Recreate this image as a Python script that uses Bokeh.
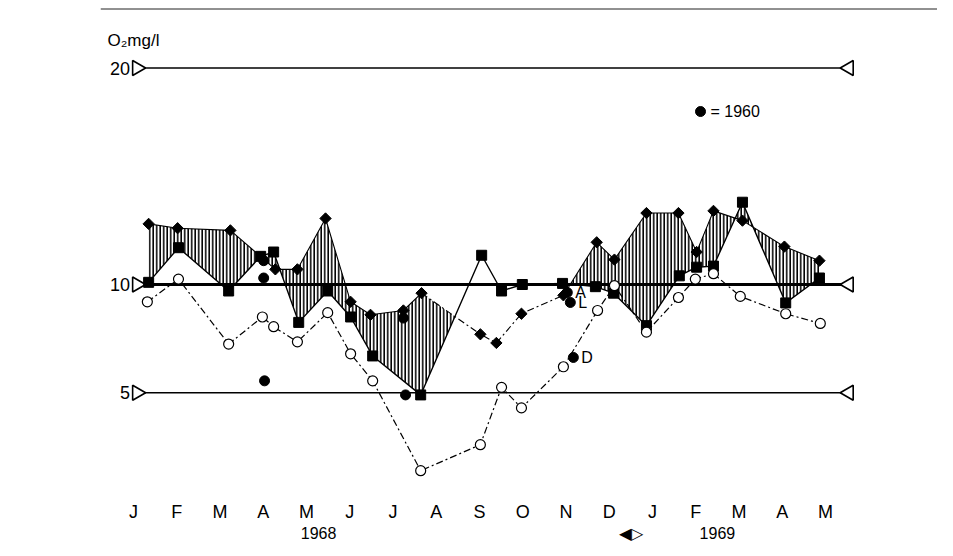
import numpy as np
from bokeh.plotting import figure
from bokeh.models import FixedTicker, LinearAxis, Range1d, Span, Label
from bokeh.core.properties import value
from bokeh.embed import file_html
from bokeh.resources import INLINE

# ---------------- data ----------------
months = ["J", "F", "M", "A", "M", "J", "J", "A", "S", "O", "N", "D",
          "J", "F", "M", "A", "M"]
month_pos = list(range(len(months)))
year_labels = ["1968", "\u25c0\u25b7", "1969"]
year_pos = [4.28, 11.51, 13.50]
ref_levels = [5, 10, 20]
ref_labels = ["5", "10", "20"]

# filled diamonds (upper boundary of hatched area)
dia_x = [0.35, 1.02, 2.24, 3.28, 3.79, 4.44, 5.02, 5.48, 6.24, 6.66, 8.02, 8.39,
         8.97, 9.94, 10.71, 11.12, 11.86, 12.60, 13.02, 13.41, 14.08, 15.05, 15.86]
dia_y = [12.8, 12.6, 12.5, 10.7, 10.7, 13.05, 9.2, 8.6, 8.8, 9.6, 7.7, 7.3,
         8.65, 9.5, 11.95, 11.15, 13.3, 13.3, 11.5, 13.4, 12.95, 11.75, 11.1]

# filled squares
sq_x = [0.35, 1.04, 2.20, 2.94, 3.24, 3.82, 4.49, 5.02, 5.53, 6.64, 8.05, 8.51,
        8.99, 9.92, 10.68, 11.10, 11.86, 12.62, 13.02, 13.41, 14.08, 15.08, 15.86]
sq_y = [10.1, 11.7, 9.7, 11.3, 11.5, 8.25, 9.7, 8.5, 6.7, 4.9, 11.35, 9.7,
        10.0, 10.05, 9.9, 9.6, 8.1, 10.4, 10.8, 10.85, 13.8, 9.15, 10.3]

# open circles
oc_x = [0.32, 1.04, 2.20, 2.98, 3.24, 3.79, 4.49, 5.02, 5.53, 6.64, 8.02, 8.51,
        8.97, 9.94, 10.73, 11.12, 11.86, 12.60, 12.99, 13.41, 14.03, 15.08, 15.88]
oc_y = [9.2, 10.25, 7.25, 8.5, 8.05, 7.35, 8.7, 6.8, 5.55, 1.4, 2.6, 5.25,
        4.3, 6.2, 8.8, 9.95, 7.8, 9.4, 10.25, 10.5, 9.45, 8.65, 8.2]

# 1960 values (filled circles)
dot_x = [3.01, 3.01, 3.03, 6.24, 6.29, 10.03, 10.10, 10.17]
dot_y = [11.1, 10.3, 5.55, 8.45, 4.9, 9.63, 9.17, 6.63]
dot_lab = ["", "", "", "", "", "A", "L", "D"]

legend_text = "= 1960"
unit_text = "O\u2082mg/l"

# ---------------- style / layout ----------------
FONT = "Liberation Sans"
PX = 43.25          # pixels per month
PY = 21.65          # pixels per mg/l
X0 = (100 - 133) / PX
X1 = (937 - 133) / PX
Y1 = 10 + 284 / PY
Y0 = 10 - (480 - 284) / PY
REF_START, REF_END = 0.08, 16.54
LEG_X, LEG_Y = 13.11, 17.99
DASHDOT = "7 3 2 3"

p = figure(width=937, height=553, output_backend="svg", toolbar_location=None,
           title=None, x_range=Range1d(X0, X1), y_range=Range1d(Y0, Y1),
           x_axis_type=None, y_axis_type=None,
           min_border_left=100, min_border_right=0, min_border_top=0,
           min_border_bottom=73)
p.outline_line_color = None
p.background_fill_color = "white"
p.border_fill_color = "white"

# top border line
p.add_layout(Span(location=10 + (284 - 8.5) / PY, dimension="width",
                  line_color="#222222", line_width=1))

# hatched areas between diamonds and squares
grid = np.linspace(max(dia_x[0], sq_x[0]), min(dia_x[-1], sq_x[-1]), 1500)
yd = np.interp(grid, dia_x, dia_y)
ys = np.interp(grid, sq_x, sq_y)
diff = yd - ys
after_aug = np.where((grid > dia_x[9]) & (diff <= 0))[0][0]
before_dec = np.where((grid > dia_x[13]) & (grid < dia_x[14]) & (diff <= 0))[0][-1]
for sel in (slice(0, after_aug + 1), slice(before_dec, len(grid))):
    p.varea(x=grid[sel], y1=ys[sel], y2=yd[sel], fill_color=None, fill_alpha=0,
            hatch_pattern="vertical_line", hatch_color="black",
            hatch_scale=3.5, hatch_weight=1.6)

# reference lines with triangles
p.segment(x0=[REF_START] * 3, y0=ref_levels, x1=[REF_END] * 3, y1=ref_levels,
          line_color="black", line_width=[1.6, 3.0, 1.6])
p.scatter(x=[REF_START] * 3, y=ref_levels, marker="triangle", size=15,
          angle=-np.pi / 2, fill_color="white", line_color="black", line_width=1.6)
p.scatter(x=[REF_END] * 3, y=ref_levels, marker="triangle", size=15,
          angle=np.pi / 2, fill_color="white", line_color="black", line_width=1.6)
p.text(x=[REF_START] * 3, y=ref_levels, text=ref_labels, x_offset=-7,
       text_align="right", text_baseline="middle", text_font=value(FONT),
       text_font_size="18px", text_color="black")

# series lines
p.line(dia_x[:10], dia_y[:10], line_color="black", line_width=1.1)
p.line(dia_x[9:14], dia_y[9:14], line_color="black", line_width=1.1,
       line_dash=DASHDOT)
p.line(dia_x[13:], dia_y[13:], line_color="black", line_width=1.1)
p.line(sq_x, sq_y, line_color="black", line_width=1.4)
p.line(oc_x, oc_y, line_color="black", line_width=1.2, line_dash=DASHDOT)

# markers
p.scatter(sq_x, sq_y, marker="square", size=10, fill_color="black",
          line_color="black")
p.scatter(dia_x, dia_y, marker="square", angle=np.pi / 4, size=8,
          fill_color="black", line_color="black")
p.scatter(oc_x, oc_y, marker="circle", size=10, fill_color="white",
          line_color="black", line_width=1.2)
p.scatter(dot_x, dot_y, marker="circle", size=10, fill_color="black",
          line_color="black")
p.text(x=dot_x, y=dot_y, text=dot_lab, x_offset=8, text_baseline="middle",
       text_font=value(FONT), text_font_size="16px", text_color="black")

# legend key
p.scatter([LEG_X], [LEG_Y], marker="circle", size=10, fill_color="black",
          line_color="black")
p.text(x=[LEG_X], y=[LEG_Y], text=[legend_text], x_offset=10,
       text_baseline="middle", text_font=value(FONT), text_font_size="16px")

# unit label
p.add_layout(Label(x=(107 - 133) / PX, y=10 + (284 - 40) / PY, text=unit_text,
                   text_baseline="middle", text_font=FONT,
                   text_font_size="17px", text_color="black"))

# axes
xax = LinearAxis(ticker=FixedTicker(ticks=month_pos),
                 major_label_overrides={v: t for v, t in zip(month_pos, months)},
                 axis_line_color=None, major_tick_line_color=None,
                 minor_tick_line_color=None, major_label_standoff=15,
                 major_label_text_font=FONT, major_label_text_font_size="18px",
                 major_label_text_color="black")
p.add_layout(xax, "below")

yrax = LinearAxis(ticker=FixedTicker(ticks=year_pos),
                  major_label_overrides={v: t for v, t in zip(year_pos, year_labels)},
                  axis_line_color=None, major_tick_line_color=None,
                  minor_tick_line_color=None, major_label_standoff=-6,
                  major_label_text_font=FONT, major_label_text_font_size="16px",
                  major_label_text_color="black")
p.add_layout(yrax, "below")

open("out.html", "w").write(file_html(p, INLINE))
